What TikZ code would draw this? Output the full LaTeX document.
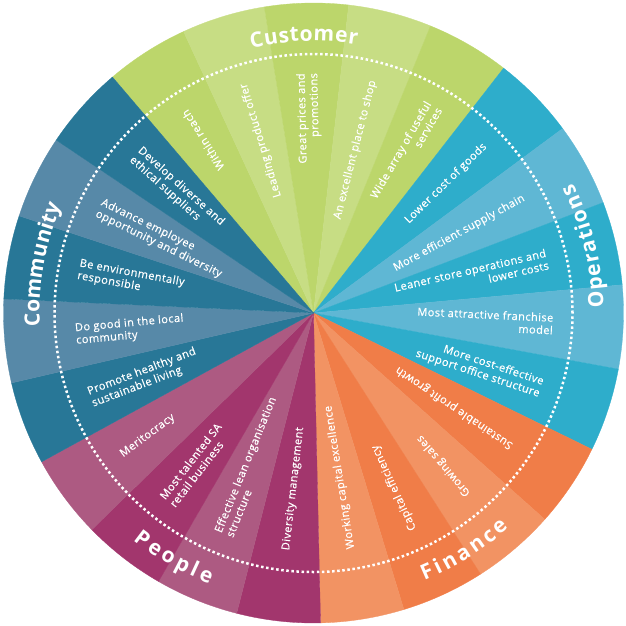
\documentclass[tikz,border=0pt]{standalone}
\usepackage{fontspec}
\setmainfont{Open Sans}
\newfontfamily\itemfont[LetterSpace=4, FakeBold=0.5]{Open Sans}
\newfontfamily\labelfont{Open Sans}
\usetikzlibrary{decorations.text}

\definecolor{cusA}{HTML}{BCD66B}
\definecolor{cusB}{HTML}{C7DD84}
\definecolor{opsA}{HTML}{2EADCB}
\definecolor{opsB}{HTML}{5FB7D4}
\definecolor{finA}{HTML}{F07D48}
\definecolor{finB}{HTML}{F29363}
\definecolor{pplA}{HTML}{A2366D}
\definecolor{pplB}{HTML}{AD5A82}
\definecolor{comA}{HTML}{287797}
\definecolor{comB}{HTML}{5789A8}

\tikzset{
    outtext/.style={anchor=east, align=right, inner sep=0pt, text=white,
        font=\itemfont\fontsize{11}{12.6}\selectfont},
    intext/.style={anchor=west, align=left, inner sep=0pt, text=white,
        font=\itemfont\fontsize{11}{12.6}\selectfont},
    dots/.style={white, line width=2.5pt, dash pattern=on 2.5pt off 2.6pt},
    wheellabel/.style={decorate, decoration={text along path, text color=white,
        text align={fit to path}, text={|\labelfont\bfseries\fontsize{21}{21}\selectfont|#1}}}
}

\begin{document}
\begin{tikzpicture}[x=1pt, y=1pt]
    \useasboundingbox (-313.5,-313) rectangle (312.5,313);

    % spicchi
    \foreach \i/\col in {0/cusA, 1/cusB, 2/cusA, 3/cusB, 4/cusA,
                         5/opsA, 6/opsB, 7/opsA, 8/opsB, 9/opsA,
                         10/finA, 11/finB, 12/finA, 13/finB,
                         14/pplA, 15/pplB, 16/pplA, 17/pplB,
                         18/comA, 19/comB, 20/comA, 21/comB, 22/comA} {
        \pgfmathsetmacro\aa{130.4348-15.6522*\i}
        \pgfmathsetmacro\ab{130.4348-15.6522*(\i+1)}
        \fill[\col, draw=\col, line width=0.3pt] (0,0) -- (\aa:310)
            arc[start angle=\aa, end angle=\ab, radius=310] -- cycle;
    }

    \draw[dots] (0,0) circle[radius=259];

    % testi verso l'esterno
    \foreach \i/\txt in {0/Within reach, 1/Leading product offer,
                         2/Great prices and\\promotions, 3/An excellent place to shop,
                         4/Wide array of useful\\services, 5/Lower cost of goods,
                         6/More efficient supply chain, 7/Leaner store operations and\\lower costs,
                         8/Most attractive franchise\\model, 9/More cost-effective\\support office structure} {
        \pgfmathsetmacro\ang{130.4348-15.6522*(\i+0.5)}
        \node[outtext, rotate=\ang] (t\i) at (\ang:240) {\txt};
    }

    % testi verso il centro
    \foreach \i/\txt in {10/Sustainable profit growth, 11/Growing sales,
                         12/Capital efficiency, 13/Working capital excellence,
                         14/Diversity management, 15/Effective lean organisation\\structure,
                         16/Most talented SA\\retail business, 17/Meritocracy,
                         18/Promote healthy and\\sustainable living, 19/Do good in the local\\community,
                         20/Be environmentally\\responsible, 21/Advance employee\\opportunity and diversity,
                         22/Develop diverse and\\ethical suppliers} {
        \pgfmathsetmacro\ang{130.4348-15.6522*(\i+0.5)}
        \node[intext, rotate=\ang+180] (t\i) at (\ang:239) {\txt};
    }

    % etichette sulla corona
    \path[wheellabel=Customer] (103.2:272) arc[start angle=103.2, end angle=80.8, radius=272];
    \path[wheellabel=Operations] (1:290) arc[start angle=1, end angle=26.5, radius=290];
    \path[wheellabel=Finance] (-67.5:290) arc[start angle=-67.5, end angle=-47.6, radius=290];
    \path[wheellabel=People] (-128.5:290) arc[start angle=-128.5, end angle=-111, radius=290];
    \path[wheellabel=Community] (182.8:274) arc[start angle=182.8, end angle=156.9, radius=274];
\end{tikzpicture}
\end{document}
